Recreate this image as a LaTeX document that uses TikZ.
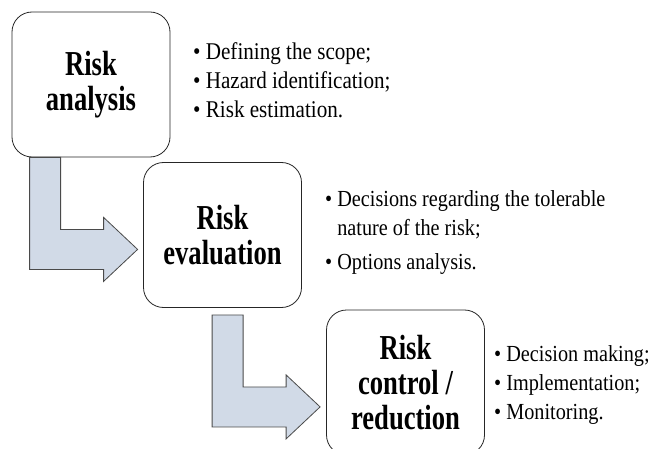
\documentclass[tikz,border=0pt]{standalone}
\usepackage{fontspec}
\setmainfont{Liberation Serif}
\newfontfamily\boxfont{Liberation Serif}[FakeStretch=0.76]
\newfontfamily\listfont{Liberation Serif}[FakeStretch=0.88]

\tikzset{
	stage/.style={draw=black!85, line width=0.8pt, rounded corners=20pt, fill=white,
		minimum width=158pt, minimum height=145pt, align=center, inner sep=0pt,
		font=\boxfont\bfseries\fontsize{35}{35}\selectfont},
	bullets/.style={anchor=north west, align=left, inner sep=0pt,
		font=\listfont\fontsize{24}{29}\selectfont},
	smallbullets/.style={bullets, font=\listfont\fontsize{23}{29}\selectfont},
	bentarrow/.style={fill=arrowfill, draw=arrowedge, line width=0.8pt, line join=miter}
}

\begin{document}
\begin{tikzpicture}[x=1pt, y=-1pt]
		\definecolor{arrowfill}{HTML}{D1DAE7}
		\definecolor{arrowedge}{HTML}{4A4A4A}
		\clip (0,0) rectangle (653,449);
		\node[stage] (analysis) at (91,84.5) {Risk\\analysis};
		\node[stage] (evaluation) at (222.5,235) {Risk\\evaluation};
		\node[stage] (control) at (405.5,382.5) {Risk\\control /\\reduction};
		\foreach \from/\dx/\dy in {analysis/18/0, evaluation/69/7}{
				\draw[bentarrow] (\from.south west) ++(\dx,\dy) -- ++(31,0) -- ++(0,72) -- ++(43,0) -- ++(0,-12)
				-- ++(34,32) -- ++(-34,32) -- ++(0,-12) -- ++(-74,0) -- cycle;
			}
		\node[bullets] (list1) at (193,42) {\textbullet~Defining the scope;\\
			\textbullet~Hazard identification;\\
			\textbullet~Risk estimation.};
		\node[smallbullets] (list2) at (325,190) {\textbullet~Decisions regarding the tolerable\\
			\phantom{\textbullet~}nature of the risk;\\[5pt]
			\textbullet~Options analysis.};
		\node[smallbullets] (list3) at (494,345) {\textbullet~Decision making;\\
			\textbullet~Implementation;\\
			\textbullet~Monitoring.};
	\end{tikzpicture}
\end{document}
